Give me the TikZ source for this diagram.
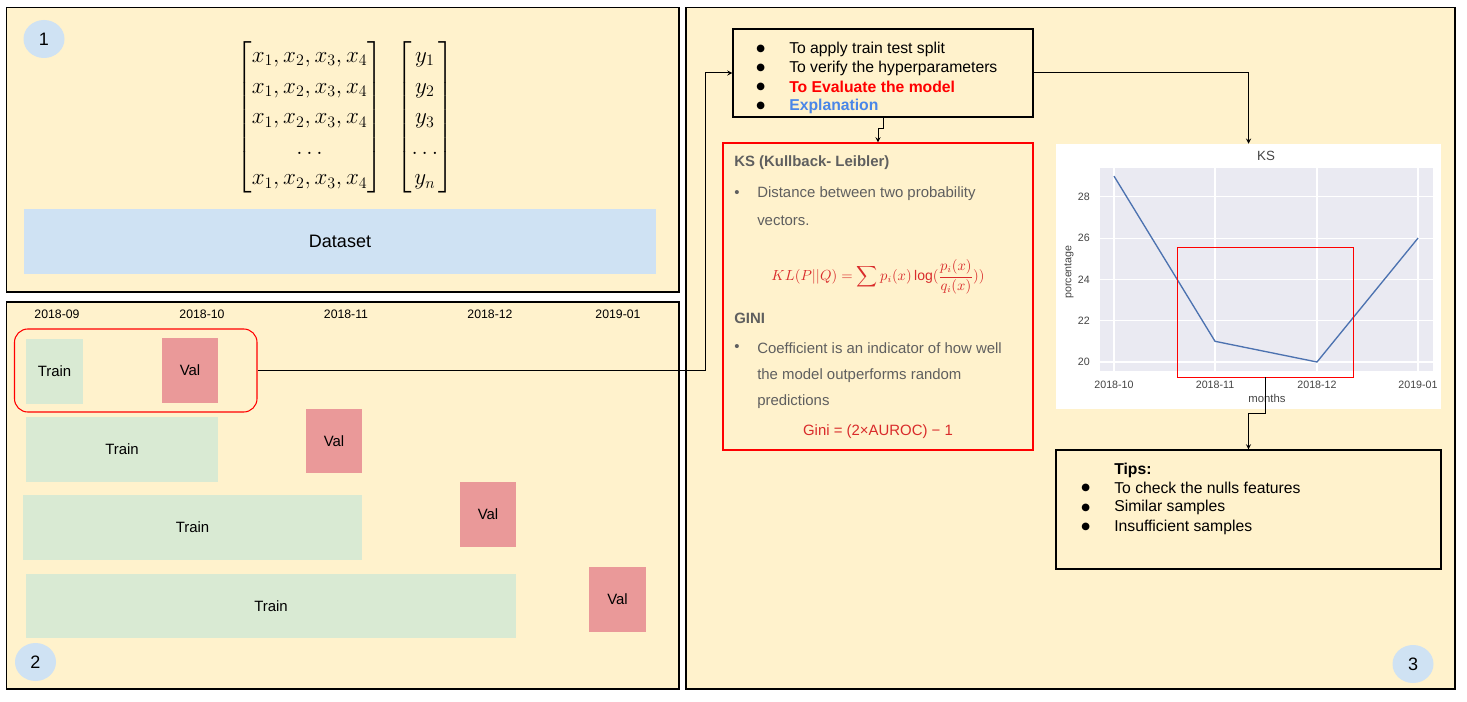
\documentclass[tikz,border=0pt]{standalone}
\usepackage{amsmath}
\usepackage{fontspec}
\setmainfont{Liberation Sans}
\newfontfamily\dotfont{DejaVu Sans}
\usetikzlibrary{fit,shapes.geometric}

\definecolor{panelyellow}{HTML}{FFF2CC}
\definecolor{dotblue}{HTML}{CFE2F3}
\definecolor{traingreen}{HTML}{D9EAD3}
\definecolor{valred}{HTML}{EA9999}
\definecolor{explblue}{HTML}{4A86E8}
\definecolor{ksgray}{HTML}{5F5F5F}
\definecolor{formred}{HTML}{D92B2B}
\definecolor{plotgray}{HTML}{EAEAF2}
\definecolor{lineblue}{HTML}{4C72B0}
\definecolor{tickgray}{HTML}{444444}

\tikzset{
  panel/.style={draw=black, fill=panelyellow, line width=0.8pt, inner sep=0pt},
  numdot/.style={ellipse, fill=dotblue, minimum width=30.75pt, minimum height=28.5pt,
    inner sep=0pt, font=\fontsize{13.5}{16}\selectfont},
  trainbox/.style={fill=traingreen, inner sep=0pt,
    label={[font=\fontsize{11.2}{13}\selectfont]center:#1}},
  valbox/.style={fill=valred, inner sep=0pt,
    label={[font=\fontsize{11.2}{13}\selectfont]center:#1}},
  month/.style={font=\fontsize{9.2}{11}\selectfont},
  dot/.style={font=\dotfont\fontsize{7.5}{9}\selectfont, anchor=west, inner sep=0pt},
  boxtext/.style={font=\fontsize{11.8}{14}\selectfont, anchor=west, inner sep=0pt},
  kstext/.style={font=\fontsize{11.2}{13}\selectfont, text=ksgray, anchor=west, inner sep=0pt},
  kshead/.style={font=\fontsize{11.2}{13}\selectfont\bfseries, text=ksgray, anchor=west, inner sep=0pt},
  tick/.style={font=\fontsize{8}{9}\selectfont, text=tickgray, inner sep=0pt},
  frame/.style={draw, line width=0.8pt, inner sep=0pt},
  link/.style={->, line width=0.75pt},
}

\begin{document}
\begin{tikzpicture}[x=0.75pt, y=-0.75pt, >=stealth]
    \fill[white] (0,0) rectangle (1467,702);
    \useasboundingbox (0,0) rectangle (1467,702);

    % panels
    \node[panel, fit={(6.5,7.5) (679,292)}] (p1) {};
    \node[panel, fit={(6.5,302) (679,689)}] (p2) {};
    \node[panel, fit={(686,7.5) (1455,689)}] (p3) {};
    \node[numdot] (n1) at (44,39) {1};
    \node[numdot] (n2) at (35.5,662) {2};
    \node[numdot] (n3) at (1413,664) {3};

    % dataset
    \node[inner sep=0pt, anchor=east, font=\fontsize{18}{22.9}\selectfont] (mx) at (383,117.5)
      {$\begin{bmatrix} x_1, x_2, x_3, x_4\\ x_1, x_2, x_3, x_4\\ x_1, x_2, x_3, x_4\\ \ldots\\ x_1, x_2, x_3, x_4\end{bmatrix}$};
    \node[inner sep=0pt, anchor=west, font=\fontsize{18}{22.9}\selectfont] (my) at (396,117.5)
      {$\begin{bmatrix} y_1\\ y_2\\ y_3\\ \ldots\\ y_n\end{bmatrix}$};
    \node[fill=dotblue, inner sep=0pt, fit={(24,209) (656,274)},
      label={[font=\fontsize{13.5}{16}\selectfont]center:Dataset}] (data) {};

    % time split
    \foreach \m/\xx [count=\i] in {2018-09/57, 2018-10/202, 2018-11/346, 2018-12/490, 2019-01/618}
      \node[month] (month\i) at (\xx,314) {\m};
    \node[trainbox=Train, fit={(26,339) (83,404)}] (train1) {};
    \node[valbox=Val, fit={(162,338) (218,403)}] (val1) {};
    \node[draw=red, rounded corners=10pt, line width=0.8pt, inner sep=0pt,
      fit={(14.5,329) (257,412)}] (fold1) {};
    \node[trainbox=Train, fit={(26,417) (218,482)}] (train2) {};
    \node[valbox=Val, fit={(306,409) (362,473)}] (val2) {};
    \node[trainbox=Train, fit={(23,495) (362,560)}] (train3) {};
    \node[valbox=Val, fit={(460,482) (516,547)}] (val3) {};
    \node[trainbox=Train, fit={(26,574) (516,638)}] (train4) {};
    \node[valbox=Val, fit={(589,567) (646,632)}] (val4) {};

    % goals
    \node[frame, fit={(733,29) (1033,117)}] (list) {};
    \foreach \yy [count=\i] in {49,68,87,106}
      \node[dot] (lb\i) at (756,\yy) {●};
    \node[boxtext] (li1) at (789,49) {To apply train test split};
    \node[boxtext] (li2) at (789,68) {To verify the hyperparameters};
    \node[boxtext, text=red, font=\fontsize{11.8}{14}\selectfont\bfseries] (li3) at (789,87) {To Evaluate the model};
    \node[boxtext, text=explblue, font=\fontsize{11.8}{14}\selectfont\bfseries] (li4) at (789,106) {Explanation};
    \coordinate (bend) at (705,73);
    \draw[link] (fold1.east) -| (bend) -- (list.west);

    % metrics
    \node[frame, draw=red, fit={(723,143) (1033,450)}] (ks) {};
    \draw[link] (list.south) -- ++(0,11) -| (ks.north);
    \node[kshead] (kst) at (734,163) {KS (Kullback- Leibler)};
    \node[kstext] (kb1) at (734,194) {\textbullet};
    \node[kstext] (kd1) at (757,194) {Distance between two probability};
    \node[kstext] (kd2) at (757,221) {vectors.};
    \node[inner sep=0pt, text=formred, font=\fontsize{10.5}{13}\selectfont] (klf) at (878,277)
      {$\displaystyle KL(P||Q) = \sum p_i(x)\log(\frac{p_i(x)}{q_i(x)}))$};
    \node[kshead] (gini) at (734,318) {GINI};
    \node[kstext] (kb2) at (734,348) {\textbullet};
    \node[kstext] (gd1) at (757,348) {Coefficient is an indicator of how well};
    \node[kstext] (gd2) at (757,376) {the model outperforms random};
    \node[kstext] (gd3) at (757,402) {predictions};
    \node[inner sep=0pt, text=formred, font=\fontsize{11.2}{13}\selectfont] (gf) at (878,432)
      {Gini = (2×AUROC) − 1};

    % chart
    \node[fill=white, inner sep=0pt, fit={(1056,144) (1441,409)}] (chart) {};
    \draw[link] (list.east) -| (chart.north);
    \fill[plotgray] (1100,168) rectangle (1433,371);
    \foreach \v/\yy in {20/362, 22/320.7, 24/279.4, 26/238.1, 28/196.8} {
      \draw[white, line width=0.8pt] (1100,\yy) -- (1433,\yy);
      \node[tick, anchor=east] (yt\v) at (1090,\yy) {\v};
    }
    \foreach \m/\xx [count=\i] in {2018-10/1114, 2018-11/1215, 2018-12/1317, 2019-01/1418} {
      \draw[white, line width=0.8pt] (\xx,168) -- (\xx,371);
      \node[tick] (xt\i) at (\xx,385) {\m};
    }
    \draw[lineblue, line width=1pt] (1114,176.1) -- (1215,341.3) -- (1317,362) -- (1418,238.1);
    \node[tick, font=\fontsize{10}{12}\selectfont] (kstitle) at (1266,156) {KS};
    \node[tick, font=\fontsize{8.5}{10}\selectfont] (xlab) at (1267,398) {months};
    \node[tick, rotate=90] (ylab) at (1069,272) {porcentage};
    \node[frame, draw=red, line width=0.6pt, fit={(1177,247) (1353,377)}] (zoomrect) {};

    % tips
    \node[frame, fit={(1056,450) (1441,569)}] (tips) {};
    \draw[link] (zoomrect.south) -- ++(0,36) -| (tips.north);
    \node[boxtext, font=\fontsize{11.8}{14}\selectfont\bfseries] (tiph) at (1114,470) {Tips:};
    \foreach \yy [count=\i] in {488,507.5,527}
      \node[dot] (tb\i) at (1081,\yy) {●};
    \node[boxtext] (t1) at (1114,488) {To check the nulls features};
    \node[boxtext] (t2) at (1114,507.5) {Similar samples};
    \node[boxtext] (t3) at (1114,527) {Insufficient samples};
\end{tikzpicture}
\end{document}
